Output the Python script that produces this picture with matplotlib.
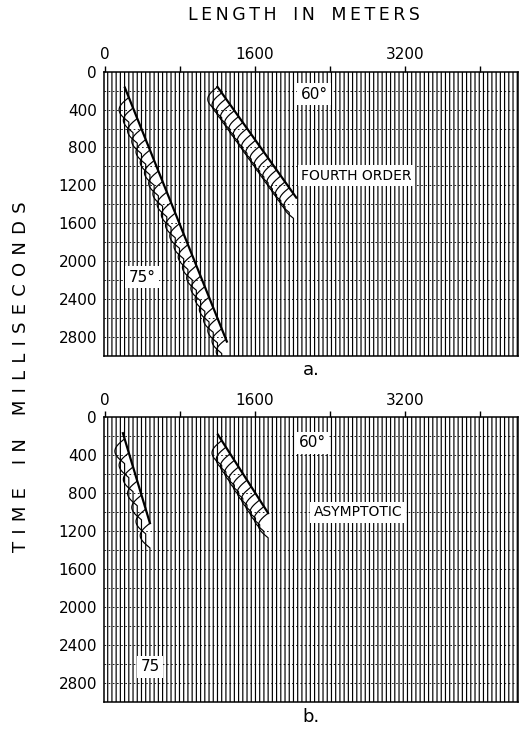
import numpy as np
import matplotlib.pyplot as plt

# trace layout
trace_spacing = 45.0
trace_first = 30.0
trace_last = 4400.0
t_max = 3000.0

# dipping events (metres, milliseconds)
# panel a, fourth order: 75 deg event and 60 deg event
a_x0 = [213, 1200]
a_t0 = [168, 160]
a_x1 = [1300, 2040]
a_t1 = [2850, 1330]
a_amp = [1.0, 1.0]

# panel b, asymptotic: 75 deg event and 60 deg event
b_x0 = [192, 1205]
b_t0 = [168, 184]
b_x1 = [480, 1740]
b_t1 = [1116, 1010]
b_amp = [1.0, 1.0]

# labels on the panels
a_labels = ["60°", "FOURTH ORDER", "75°"]
a_lab_size = [11, 10, 11]
a_lab_x = [2230, 2680, 395]
a_lab_t = [240, 1100, 2170]
b_labels = ["60°", "ASYMPTOTIC", "75"]
b_lab_size = [11, 10, 11]
b_lab_x = [2210, 2700, 480]
b_lab_t = [270, 1000, 2630]

x_ticks = [0, 800, 1600, 2400, 3200, 4000]
x_ticklabels = ["0", "", "1600", "", "3200", ""]
y_ticks = [0, 400, 800, 1200, 1600, 2000, 2400, 2800]


def trace_deflection(x, t, x0s, t0s, x1s, t1s, amps):
    d = np.zeros_like(t)
    for x0, t0, x1, t1, amp in zip(x0s, t0s, x1s, t1s, amps):
        if x < x0 or x > x1:
            continue
        te = t0 + (x - x0) * (t1 - t0) / (x1 - x0)
        u = (t - te) / 260.0
        pulse = np.where((u > 0) & (u < 1), -np.sin(np.pi * u), 0.0)
        d += amp * 2.3 * trace_spacing * pulse
    return d


def draw_panel(ax, x0s, t0s, x1s, t1s, amps, labels, sizes, lab_x, lab_t, letter):
    t = np.linspace(0, t_max, 1501)
    xs = np.arange(trace_first, trace_last, trace_spacing)
    for x in xs:
        d = trace_deflection(x, t, x0s, t0s, x1s, t1s, amps)
        ax.plot(x + d, t, color="black", lw=0.85, zorder=2)

    for tl in np.arange(200, t_max, 200):
        ax.axhline(tl, color="black", lw=0.6, ls=(0, (2, 3)), zorder=1)

    for x0, t0, x1, t1 in zip(x0s, t0s, x1s, t1s):
        ax.plot([x0, x1], [t0, t1], color="black", lw=1.6, zorder=3)

    for s, fs, lx, lt in zip(labels, sizes, lab_x, lab_t):
        ax.text(lx, lt, s, fontsize=fs, ha="center", va="center", zorder=5,
                bbox=dict(facecolor="white", edgecolor="none", pad=2.5))

    ax.set_xlim(-10, 4405)
    ax.set_ylim(t_max, 0)
    ax.xaxis.tick_top()
    ax.set_xticks(x_ticks)
    ax.set_xticklabels(x_ticklabels)
    ax.set_yticks(y_ticks)
    ax.tick_params(axis="x", direction="out", length=4, width=1, labelsize=11, pad=3)
    ax.tick_params(axis="y", length=0, labelsize=11, pad=5)
    for sp in ax.spines.values():
        sp.set_linewidth(1.1)
    ax.text(0.5, -0.02, letter, transform=ax.transAxes, fontsize=13,
            ha="center", va="top")


fig = plt.figure(figsize=(5.25, 7.32), dpi=100)
ax_a = fig.add_axes([0.198, 0.514, 0.789, 0.388])
ax_b = fig.add_axes([0.198, 0.041, 0.789, 0.389])

draw_panel(ax_a, a_x0, a_t0, a_x1, a_t1, a_amp,
           a_labels, a_lab_size, a_lab_x, a_lab_t, "a.")
draw_panel(ax_b, b_x0, b_t0, b_x1, b_t1, b_amp,
           b_labels, b_lab_size, b_lab_x, b_lab_t, "b.")

ts = "\u2009"
fig.text(0.578, 0.979, ts.join("LENGTH") + "   " + ts.join("IN") + "   " + ts.join("METERS"),
         fontsize=12.5, ha="center", va="center")
ts2 = "\u2009\u2009"
fig.text(0.04, 0.485, ts2.join("TIME") + "    " + ts2.join("IN") + "    " + ts2.join("MILLISECONDS"),
         fontsize=13, ha="center", va="center", rotation=90)

fig.savefig("out.png", dpi=100)
